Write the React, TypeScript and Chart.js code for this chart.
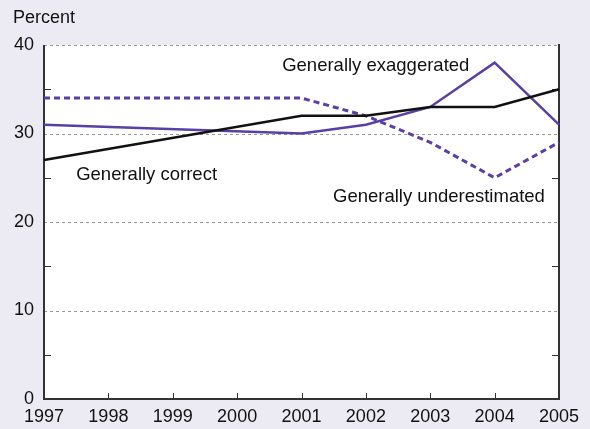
import React, { useEffect, useRef } from "react";
import { Chart, registerables } from "chart.js";

Chart.register(...registerables);

const years = ["1997", "1998", "1999", "2000", "2001", "2002", "2003", "2004", "2005"];
const generallyCorrect = [27, null, null, null, 32, 32, 33, 33, 35];
const generallyExaggerated = [31, null, null, null, 30, 31, 33, 38, 31];
const generallyUnderestimated = [34, null, null, null, 34, 32, 29, 25, 29];
const yMajorTicks = [0, 10, 20, 30, 40];
const yMinorTicks = [5, 15, 25, 35];
const seriesLabels = [
  { text: "Generally exaggerated", x: 3.7, y: 37.06 },
  { text: "Generally correct", x: 0.5, y: 24.8 },
  { text: "Generally underestimated", x: 4.49, y: 22.3 },
];

const FONT = '"Liberation Sans", Arial, Helvetica, sans-serif';
const PURPLE = "#5a3fa4";
const BG = "#ecebf4";

const framePlugin = {
  id: "frame",
  beforeDatasetsDraw(chart: any) {
    const { ctx, chartArea, scales } = chart;
    const y = scales.y;
    const x = scales.x;
    ctx.save();
    ctx.fillStyle = "#ffffff";
    ctx.fillRect(chartArea.left, chartArea.top, chartArea.right - chartArea.left, chartArea.bottom - chartArea.top);
    // dashed grid lines
    ctx.strokeStyle = "#9a9a9a";
    ctx.lineWidth = 1;
    ctx.setLineDash([3, 3]);
    for (const v of yMajorTicks) {
      if (v === 0) continue;
      const py = Math.round(y.getPixelForValue(v)) + 0.5;
      ctx.beginPath();
      ctx.moveTo(chartArea.left, py);
      ctx.lineTo(chartArea.right, py);
      ctx.stroke();
    }
    ctx.setLineDash([]);
    // frame: left, bottom, right
    ctx.strokeStyle = "#333333";
    ctx.lineWidth = 2;
    ctx.beginPath();
    ctx.moveTo(chartArea.left, chartArea.top);
    ctx.lineTo(chartArea.left, chartArea.bottom);
    ctx.lineTo(chartArea.right, chartArea.bottom);
    ctx.lineTo(chartArea.right, chartArea.top - 1);
    ctx.stroke();
    // minor ticks inside
    ctx.lineWidth = 1;
    for (const v of yMinorTicks) {
      const py = Math.round(y.getPixelForValue(v)) + 0.5;
      ctx.beginPath();
      ctx.moveTo(chartArea.left, py);
      ctx.lineTo(chartArea.left + 7, py);
      ctx.moveTo(chartArea.right, py);
      ctx.lineTo(chartArea.right - 7, py);
      ctx.stroke();
    }
    for (let i = 1; i < years.length - 1; i++) {
      const px = Math.round(x.getPixelForValue(i)) + 0.5;
      ctx.beginPath();
      ctx.moveTo(px, chartArea.bottom);
      ctx.lineTo(px, chartArea.bottom - 6);
      ctx.stroke();
    }
    ctx.restore();
  },
  afterDraw(chart: any) {
    const { ctx, scales } = chart;
    ctx.save();
    ctx.fillStyle = "#111111";
    ctx.font = `18.5px ${FONT}`;
    ctx.textBaseline = "alphabetic";
    ctx.textAlign = "left";
    for (const l of seriesLabels) {
      ctx.fillText(l.text, scales.x.getPixelForValue(l.x), scales.y.getPixelForValue(l.y));
    }
    ctx.font = `18px ${FONT}`;
    ctx.fillText("Percent", 13, 23);
    ctx.restore();
  },
};

export default function App() {
  const ref = useRef<HTMLCanvasElement>(null);
  useEffect(() => {
    if (!ref.current) return;
    const chart = new Chart(ref.current, {
      type: "line",
      data: {
        labels: years,
        datasets: [
          {
            label: "Generally correct",
            data: generallyCorrect,
            borderColor: "#111111",
            borderWidth: 2.5,
            pointRadius: 0,
            spanGaps: true,
            tension: 0,
          },
          {
            label: "Generally exaggerated",
            data: generallyExaggerated,
            borderColor: PURPLE,
            borderWidth: 2.5,
            pointRadius: 0,
            spanGaps: true,
            tension: 0,
          },
          {
            label: "Generally underestimated",
            data: generallyUnderestimated,
            borderColor: PURPLE,
            borderWidth: 3,
            borderDash: [6, 4],
            pointRadius: 0,
            spanGaps: true,
            tension: 0,
          },
        ],
      },
      options: {
        responsive: false,
        animation: false,
        devicePixelRatio: 1,
        layout: { padding: { top: 45, right: 31, left: 0, bottom: 0 } },
        plugins: { legend: { display: false }, tooltip: { enabled: false }, title: { display: false } },
        scales: {
          x: {
            type: "category",
            offset: false,
            grid: { display: false, drawTicks: false },
            border: { display: false },
            ticks: {
              color: "#111111",
              font: { family: FONT, size: 18 },
              maxRotation: 0,
              autoSkip: false,
              padding: 7,
            },
            afterFit(scale: any) {
              scale.height = 30;
            },
          },
          y: {
            min: 0,
            max: 40,
            grid: { display: false, drawTicks: false },
            border: { display: false },
            afterBuildTicks(scale: any) {
              scale.ticks = yMajorTicks.map((v) => ({ value: v }));
            },
            ticks: {
              color: "#111111",
              font: { family: FONT, size: 18 },
              padding: 10,
            },
            afterFit(scale: any) {
              scale.width = 44;
            },
          },
        },
      },
      plugins: [framePlugin],
    });
    return () => chart.destroy();
  }, []);
  return (
    <div style={{ position: "fixed", left: 0, top: 0, width: 590, height: 429, background: BG }}>
      <canvas ref={ref} width={590} height={429} style={{ display: "block" }} />
    </div>
  );
}
